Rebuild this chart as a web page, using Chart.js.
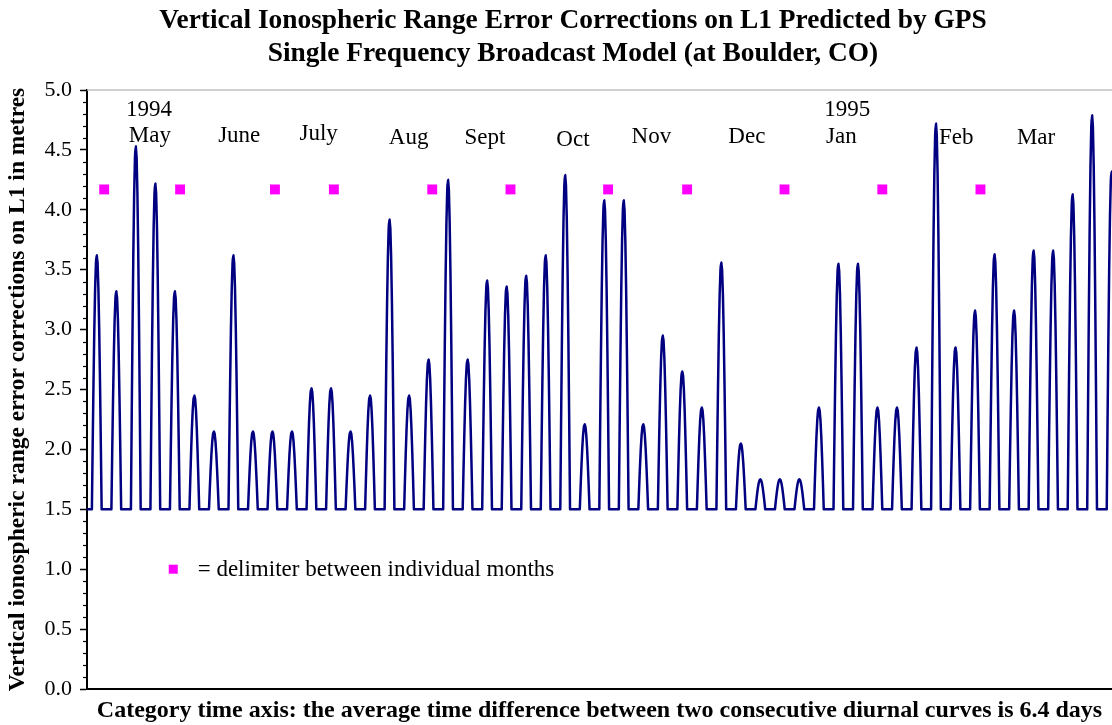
<!DOCTYPE html>
<html>
<head>
<meta charset="utf-8">
<title>Vertical Ionospheric Range Error Corrections on L1</title>
<script src="https://cdn.jsdelivr.net/npm/chart.js@4/dist/chart.umd.min.js"></script>
<style>
  html, body { margin: 0; padding: 0; background: #fff; }
  #wrap { width: 1112px; height: 725px; position: relative; }
</style>
</head>
<body>
<div id="wrap"><canvas id="ionoChart" width="1112" height="725"></canvas></div>
<script>
// peak value (m) of each diurnal curve, in time order
const peakValues = [
  3.62, 3.32, 4.53, 4.22, 3.32, 2.45, 2.15, 3.62, 2.15, 2.15,
  2.15, 2.51, 2.51, 2.15, 2.45, 3.92, 2.45, 2.75, 4.25, 2.75,
  3.41, 3.36, 3.45, 3.62, 4.29, 2.21, 4.08, 4.08, 2.21, 2.95,
  2.65, 2.35, 3.56, 2.05, 1.75, 1.75, 1.75, 2.35, 3.55, 3.55,
  2.35, 2.35, 2.85, 4.72, 2.85, 3.16, 3.63, 3.16, 3.66, 3.66,
  4.13, 4.79, 4.32
];
// night-time floor of the model (5 ns), metres
const baseLevel = 1.5;
// relative shape of one diurnal curve, hourly samples (0 = floor, 1 = peak)
const diurnalShape = [
  0, 0, 0, 0, 0, 0, 0, 0.26, 0.5, 0.71, 0.87, 0.97,
  1, 0.97, 0.87, 0.71, 0.5, 0.26, 0, 0, 0, 0, 0, 0
];
// month delimiters, in curve units along the category axis
const delimiterX = [0.88, 4.77, 9.63, 12.65, 17.69, 21.70, 26.70, 30.75, 35.74, 40.75, 45.78];
const delimiterY = 4.17;
// month / year labels
const monthNames = ['May', 'June', 'July', 'Aug', 'Sept', 'Oct', 'Nov', 'Dec', 'Jan', 'Feb', 'Mar'];
const monthX = [3.22, 7.80, 11.87, 16.48, 20.39, 24.90, 28.92, 33.81, 38.65, 44.54, 48.63];
const monthY = [4.57, 4.57, 4.58, 4.55, 4.55, 4.53, 4.555, 4.56, 4.56, 4.55, 4.55];
const yearNames = ['1994', '1995'];
const yearX = [3.18, 38.96];
const yearY = [4.78, 4.78];
const yTicks = [0, 0.5, 1, 1.5, 2, 2.5, 3, 3.5, 4, 4.5, 5];

const SERIF = '"Liberation Serif", "Times New Roman", serif';

// build the line points from the arrays above
var curvePoints = [];
peakValues.forEach(function (pk, k) {
  diurnalShape.forEach(function (s, i) {
    curvePoints.push({ x: k + i / diurnalShape.length, y: baseLevel + (pk - baseLevel) * s });
  });
});
var delimiterPoints = delimiterX.map(function (x) { return { x: x, y: delimiterY }; });

// texts, legend and minor ticks drawn on top of the chart
const extrasPlugin = {
  id: 'extras',
  afterDraw(chart) {
    const ctx = chart.ctx;
    const xs = chart.scales.x, ys = chart.scales.y;
    const area = chart.chartArea;
    ctx.save();

    // light frame line on top of the plot
    ctx.strokeStyle = '#c0c0c0';
    ctx.lineWidth = 1.5;
    ctx.beginPath();
    ctx.moveTo(area.left, area.top);
    ctx.lineTo(area.right, area.top);
    ctx.stroke();

    // minor ticks every 0.1
    ctx.strokeStyle = '#000';
    ctx.lineWidth = 1.2;
    for (let i = 0; i <= 50; i++) {
      if (i % 5 === 0) continue;
      const py = Math.round(ys.getPixelForValue(i / 10)) + 0.5;
      ctx.beginPath();
      ctx.moveTo(area.left - 4, py);
      ctx.lineTo(area.left, py);
      ctx.stroke();
    }

    // title
    ctx.fillStyle = '#000';
    ctx.textAlign = 'center';
    ctx.textBaseline = 'middle';
    ctx.font = 'bold 27.4px ' + SERIF;
    ctx.fillText('Vertical Ionospheric Range Error Corrections on L1 Predicted by GPS', 573, 21);
    ctx.fillText('Single Frequency Broadcast Model (at Boulder, CO)', 573, 54);

    // month and year labels
    ctx.font = '23px ' + SERIF;
    ctx.textBaseline = 'alphabetic';
    monthNames.forEach(function (m, i) {
      ctx.fillText(m, xs.getPixelForValue(monthX[i]), ys.getPixelForValue(monthY[i]));
    });
    yearNames.forEach(function (m, i) {
      ctx.fillText(m, xs.getPixelForValue(yearX[i]), ys.getPixelForValue(yearY[i]));
    });

    // in-plot legend
    const lx = xs.getPixelForValue(4.42), ly = ys.getPixelForValue(1.0);
    ctx.fillStyle = '#ff00ff';
    ctx.fillRect(lx - 4.5, ly - 4.5, 9, 9);
    ctx.fillStyle = '#000';
    ctx.textAlign = 'left';
    ctx.fillText('= delimiter between individual months', xs.getPixelForValue(5.67), ys.getPixelForValue(0.943));
    ctx.restore();
  }
};

new Chart(document.getElementById('ionoChart'), {
  type: 'line',
  data: {
    datasets: [
      {
        label: 'Vertical ionospheric correction',
        data: curvePoints,
        borderColor: '#000080',
        borderWidth: 2.5,
        borderJoinStyle: 'round',
        borderCapStyle: 'round',
        pointRadius: 0,
        // tiny tension keeps the segments straight but avoids the per-pixel fast path
        tension: 0.001,
        fill: false
      },
      {
        label: 'delimiter between individual months',
        type: 'scatter',
        data: delimiterPoints,
        showLine: false,
        pointStyle: 'rect',
        pointRadius: 7,
        borderWidth: 0,
        backgroundColor: '#ff00ff',
        borderColor: '#ff00ff'
      }
    ]
  },
  options: {
    responsive: false,
    animation: false,
    events: [],
    layout: { autoPadding: false, padding: { top: 90, left: 0, right: 0, bottom: 0 } },
    plugins: {
      legend: { display: false },
      tooltip: { enabled: false },
      title: { display: false }
    },
    scales: {
      x: {
        type: 'linear',
        min: 0,
        max: 52.52,
        grid: { display: false },
        border: { display: true, color: '#000', width: 2 },
        ticks: { display: false },
        title: {
          display: true,
          text: 'Category time axis: the average time difference between two consecutive diurnal curves is 6.4 days',
          color: '#000',
          font: { family: SERIF, size: 24, weight: 'bold', lineHeight: 1.2 },
          padding: { top: 0, bottom: 0 }
        },
        afterFit: function (scale) { scale.height = 36; }
      },
      y: {
        type: 'linear',
        min: 0,
        max: 5,
        afterBuildTicks: function (scale) {
          scale.ticks = yTicks.map(function (v) { return { value: v }; });
        },
        grid: {
          display: true,
          drawOnChartArea: false,
          drawTicks: true,
          tickLength: 7,
          tickColor: '#000',
          tickWidth: 1.5
        },
        border: { display: true, color: '#000', width: 2 },
        ticks: {
          color: '#000',
          padding: 8,
          font: { family: SERIF, size: 22 },
          callback: function (v) { return Number(v).toFixed(1); }
        },
        title: {
          display: true,
          text: 'Vertical ionospheric range error corrections on L1 in metres',
          color: '#000',
          font: { family: SERIF, size: 23.5, weight: 'bold', lineHeight: 1.2 },
          padding: { top: 4, bottom: 0 }
        },
        afterFit: function (scale) { scale.width = 87; }
      }
    }
  },
  plugins: [extrasPlugin]
});
</script>
</body>
</html>
